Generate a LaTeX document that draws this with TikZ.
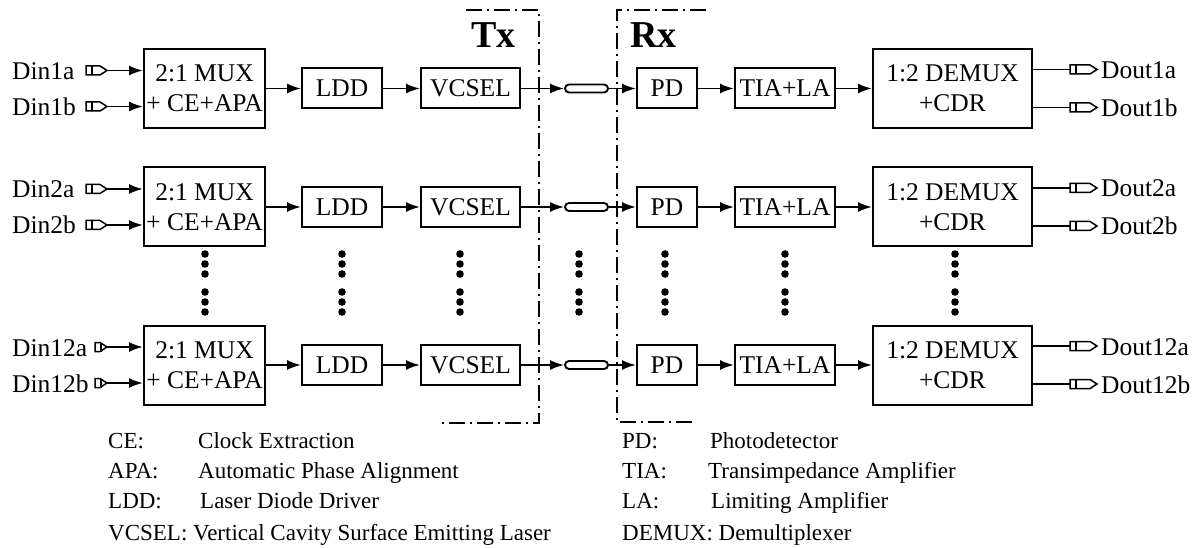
\documentclass[tikz,border=0pt]{standalone}
\usepackage{fontspec}
\setmainfont{Liberation Serif}
\usetikzlibrary{arrows.meta,calc}
\begin{document}
\begin{tikzpicture}[x=1pt,y=-1pt,
  every node/.style={font=\fontsize{25.5}{30}\selectfont},
  box/.style={draw,line width=2pt,inner sep=0pt,align=center,minimum height=40pt},
  big/.style={box,minimum height=79pt},
  arr/.style={line width=1.9pt,-{Latex[length=14pt,width=10pt]}},
  wire/.style={line width=1.9pt},
  fiber/.style={draw,line width=1.9pt,rounded corners=4pt,minimum width=43pt,minimum height=8pt,inner sep=0pt},
  dashdot/.style={line width=2pt,dash pattern=on 16pt off 5pt on 2pt off 5pt},
  lbl/.style={anchor=base west,inner sep=0pt},
  leg/.style={lbl,font=\fontsize{23}{28}\selectfont},
  pics/plug/.style={code={
    \draw[line width=1.5pt,fill=white] (-#1,-4.5) -- (-7,-4.5) -- (0,0) -- (-7,4.5) -- (-#1,4.5) -- cycle;
    \draw[line width=1.5pt] (-#1+6,-4.5) -- (-#1+6,4.5);}},
  pics/oplug/.style={code={
    \draw[line width=1.5pt,fill=white] (0,-4.5) -- (20,-4.5) -- (27,0) -- (20,4.5) -- (0,4.5) -- cycle;
    \draw[line width=1.5pt] (6,-4.5) -- (6,4.5);}},
]
\useasboundingbox (0,0) rectangle (1197,548);

% Tx / Rx brackets
\draw[dashdot] (466,10) -- (539,10) -- (539,423) -- (442,423);
\draw[dashdot] (706,10) -- (617,10) -- (617,422) -- (694,422);
\node[font=\fontsize{38}{44}\bfseries\selectfont,lbl] (tx) at (471,48) {Tx};
\node[font=\fontsize{38}{44}\bfseries\selectfont,lbl] (rx) at (630,48) {Rx};

\foreach \r/\y/\n/\pl in {1/88.5/1/21, 2/207/2/21, 3/365/12/12}{
  \node[big,minimum width=121pt] (mux\r) at (204.5,\y) {2:1 MUX\\+ CE+APA};
  \node[box,minimum width=80pt] (ldd\r) at (342,\y) {LDD};
  \node[box,minimum width=99pt] (vcsel\r) at (470.5,\y) {VCSEL};
  \node[fiber] (fib\r) at (586.5,\y) {};
  \node[box,minimum width=60pt] (pd\r) at (667,\y) {PD};
  \node[box,minimum width=100pt] (tia\r) at (785,\y) {TIA+LA};
  \node[big,minimum width=159pt] (demux\r) at (952.5,\y) {1:2 DEMUX\\+CDR};
  % inputs
  \coordinate (ina\r) at (107,\y-18);
  \coordinate (inb\r) at (107,\y+18);
  \node[lbl] (dina\r) at (12,\y-9) {Din\n{}a};
  \node[lbl] (dinb\r) at (12,\y+27) {Din\n{}b};
  \pic at (ina\r) {plug=\pl};
  \pic at (inb\r) {plug=\pl};
  \draw[arr] (ina\r) -- (ina\r -| mux\r.west);
  \draw[arr] (inb\r) -- (inb\r -| mux\r.west);
  % chain
  \draw[arr] (mux\r) -- (ldd\r);
  \draw[arr] (ldd\r) -- (vcsel\r);
  \draw[arr] (vcsel\r) -- (fib\r);
  \draw[arr] (fib\r) -- (pd\r);
  \draw[arr] (pd\r) -- (tia\r);
  \draw[arr] (tia\r) -- (demux\r);
  % outputs
  \coordinate (outa\r) at (1070,\y-19);
  \coordinate (outb\r) at (1070,\y+19);
  \draw[wire] (outa\r -| demux\r.east) -- (outa\r);
  \draw[wire] (outb\r -| demux\r.east) -- (outb\r);
  \pic at (outa\r) {oplug};
  \pic at (outb\r) {oplug};
  \node[lbl] (douta\r) at (1101,\y-10) {Dout\n{}a};
  \node[lbl] (doutb\r) at (1101,\y+28) {Dout\n{}b};
}

% continuation dots
\foreach \x in {205,342,460,579,665,785,955}
  \foreach \d in {254,264,274,292,302,312}
    \fill (\x,\d) circle (3.8pt);

% legend
\node[leg] (l1) at (108,448) {CE:};
\node[leg] (l1d) at (198,448) {Clock Extraction};
\node[leg] (l2) at (108,478) {APA:};
\node[leg] (l2d) at (198,478) {Automatic Phase Alignment};
\node[leg] (l3) at (108,508) {LDD:};
\node[leg] (l3d) at (200,508) {Laser Diode Driver};
\node[leg] (l4) at (108,540) {VCSEL: Vertical Cavity Surface Emitting Laser};
\node[leg] (r1) at (622,448) {PD:};
\node[leg] (r1d) at (710,448) {Photodetector};
\node[leg] (r2) at (622,478) {TIA:};
\node[leg] (r2d) at (708,478) {Transimpedance Amplifier};
\node[leg] (r3) at (622,508) {LA:};
\node[leg] (r3d) at (711,508) {Limiting Amplifier};
\node[leg] (r4) at (622,540) {DEMUX: Demultiplexer};
\end{tikzpicture}
\end{document}
